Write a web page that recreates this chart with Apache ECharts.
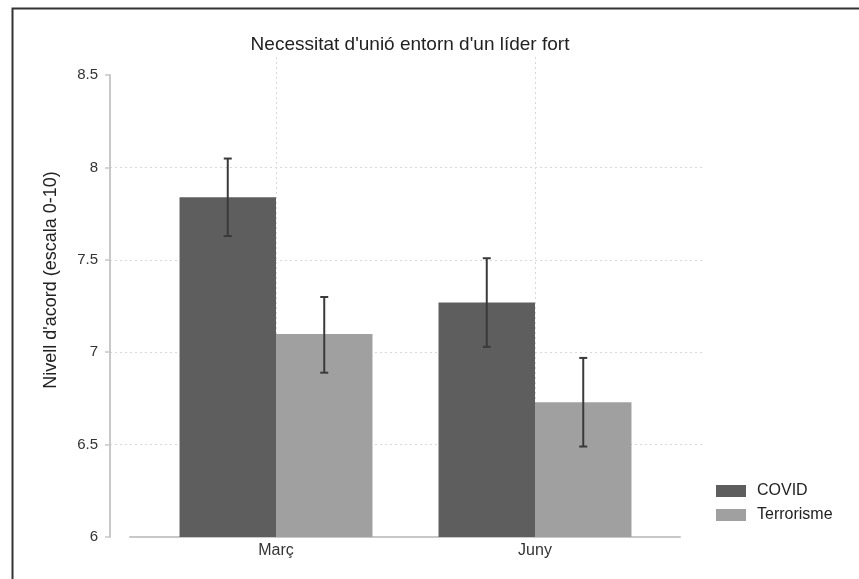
<!DOCTYPE html>
<html>
<head>
<meta charset="utf-8">
<script src="https://cdn.jsdelivr.net/npm/echarts@6/dist/echarts.min.js"></script>
<style>html,body{margin:0;padding:0;background:#fff;}#c{width:859px;height:579px;}</style>
</head>
<body>
<div id="c"></div>
<script>
const categories = ['Març', 'Juny'];
const seriesNames = ['COVID', 'Terrorisme'];
const covidValues = [7.84, 7.27];
const covidLow = [7.63, 7.03];
const covidHigh = [8.05, 7.51];
const terrValues = [7.10, 6.73];
const terrLow = [6.89, 6.49];
const terrHigh = [7.30, 6.97];
const yTicks = [6, 6.5, 7, 7.5, 8, 8.5];

const FONT = '"Liberation Sans", Arial, sans-serif';
const barCategoryGap = 0.255;
const gridLine = { color: '#d8d8d8', type: [2, 3], width: 1 };

function errSeries(low, high, sign) {
  return {
    type: 'custom',
    xAxisIndex: 0, yAxisIndex: 0,
    z: 5,
    silent: true,
    data: categories.map((c, i) => [i, low[i], high[i]]),
    renderItem: function (params, api) {
      const band = api.size([1, 0])[0];
      const barW = band * (1 - barCategoryGap) / 2;
      const off = sign * barW / 2;
      const p1 = api.coord([api.value(0), api.value(2)]);
      const p2 = api.coord([api.value(0), api.value(1)]);
      const x = p1[0] + off;
      const cap = 4;
      const st = { stroke: '#3a3a3a', lineWidth: 2 };
      return {
        type: 'group',
        children: [
          { type: 'line', shape: { x1: x, y1: p1[1], x2: x, y2: p2[1] }, style: st },
          { type: 'line', shape: { x1: x - cap, y1: p1[1], x2: x + cap, y2: p1[1] }, style: st },
          { type: 'line', shape: { x1: x - cap, y1: p2[1], x2: x + cap, y2: p2[1] }, style: st }
        ]
      };
    }
  };
}

const chart = echarts.init(document.getElementById('c'), null, { renderer: 'canvas' });
chart.setOption({
  animation: false,
  backgroundColor: '#fff',
  textStyle: { fontFamily: FONT },
  title: {
    text: "Necessitat d'unió entorn d'un líder fort",
    left: 405, top: 30, textAlign: 'center',
    textStyle: { fontFamily: FONT, fontSize: 19, fontWeight: 'normal', color: '#222' }
  },
  legend: {
    orient: 'vertical',
    left: 711, top: 478,
    itemWidth: 30, itemHeight: 12, itemGap: 8,
    icon: 'rect',
    data: seriesNames,
    textStyle: { fontFamily: FONT, fontSize: 16, lineHeight: 12, color: '#222', padding: [0, 0, 0, 6] }
  },
  graphic: [
    {
      type: 'rect', left: 10, top: 6, z: 100, silent: true,
      shape: { width: 900, height: 620 },
      style: { fill: 'none', stroke: '#333', lineWidth: 2 }
    },
    {
      type: 'text', x: 51, y: 280, rotation: Math.PI / 2, silent: true,
      style: {
        text: "Nivell d'acord (escala 0-10)",
        fontFamily: FONT, fontSize: 18, fill: '#222',
        align: 'center', verticalAlign: 'middle'
      }
    }
  ],
  grid: [
    { left: 146.5, right: 194.5, top: 57, bottom: 42 },
    { left: 110, right: 157, top: 75, bottom: 42 },
    { left: 130, right: 179, top: 75, bottom: 42 },
    { left: 276, right: 324, top: 57, bottom: 42 }
  ],
  xAxis: [
    {
      type: 'category', gridIndex: 0, data: categories,
      axisLine: { show: false }, axisTick: { show: false },
      axisLabel: { fontFamily: FONT, fontSize: 16, color: '#333', margin: 6 }
    },
    { type: 'value', gridIndex: 1, show: false, min: 0, max: 1 },
    {
      type: 'value', gridIndex: 2, min: 0, max: 1,
      axisLine: { show: true, lineStyle: { color: '#c8c8c8', width: 2 } },
      axisTick: { show: false }, axisLabel: { show: false }, splitLine: { show: false }
    },
    {
      type: 'category', gridIndex: 3, data: categories, boundaryGap: false,
      axisLine: { show: false }, axisTick: { show: false }, axisLabel: { show: false },
      splitLine: { show: true, lineStyle: gridLine }
    }
  ],
  yAxis: [
    { type: 'value', gridIndex: 0, min: 6, max: 8.6, show: false },
    {
      type: 'value', gridIndex: 1, min: yTicks[0], max: yTicks[yTicks.length - 1], interval: 0.5,
      axisLine: { show: true, lineStyle: { color: '#c8c8c8', width: 2 } },
      axisTick: { show: true, length: 5, lineStyle: { color: '#c8c8c8', width: 1.5 } },
      axisLabel: { fontFamily: FONT, fontSize: 15, color: '#333', margin: 12 },
      splitLine: { show: true, showMinLine: false, showMaxLine: false, lineStyle: gridLine }
    },
    { type: 'value', gridIndex: 2, show: false, min: 0, max: 1 },
    { type: 'value', gridIndex: 3, show: false, min: 0, max: 1, splitLine: { show: false } }
  ],
  series: [
    {
      name: seriesNames[0], type: 'bar', xAxisIndex: 0, yAxisIndex: 0,
      data: covidValues, barGap: 0, barCategoryGap: (barCategoryGap * 100) + '%',
      itemStyle: { color: '#5e5e5e' }, z: 2
    },
    {
      name: seriesNames[1], type: 'bar', xAxisIndex: 0, yAxisIndex: 0,
      data: terrValues, barGap: 0, barCategoryGap: (barCategoryGap * 100) + '%',
      itemStyle: { color: '#a0a0a0' }, z: 2
    },
    errSeries(covidLow, covidHigh, -1),
    errSeries(terrLow, terrHigh, 1)
  ]
});
</script>
</body>
</html>
